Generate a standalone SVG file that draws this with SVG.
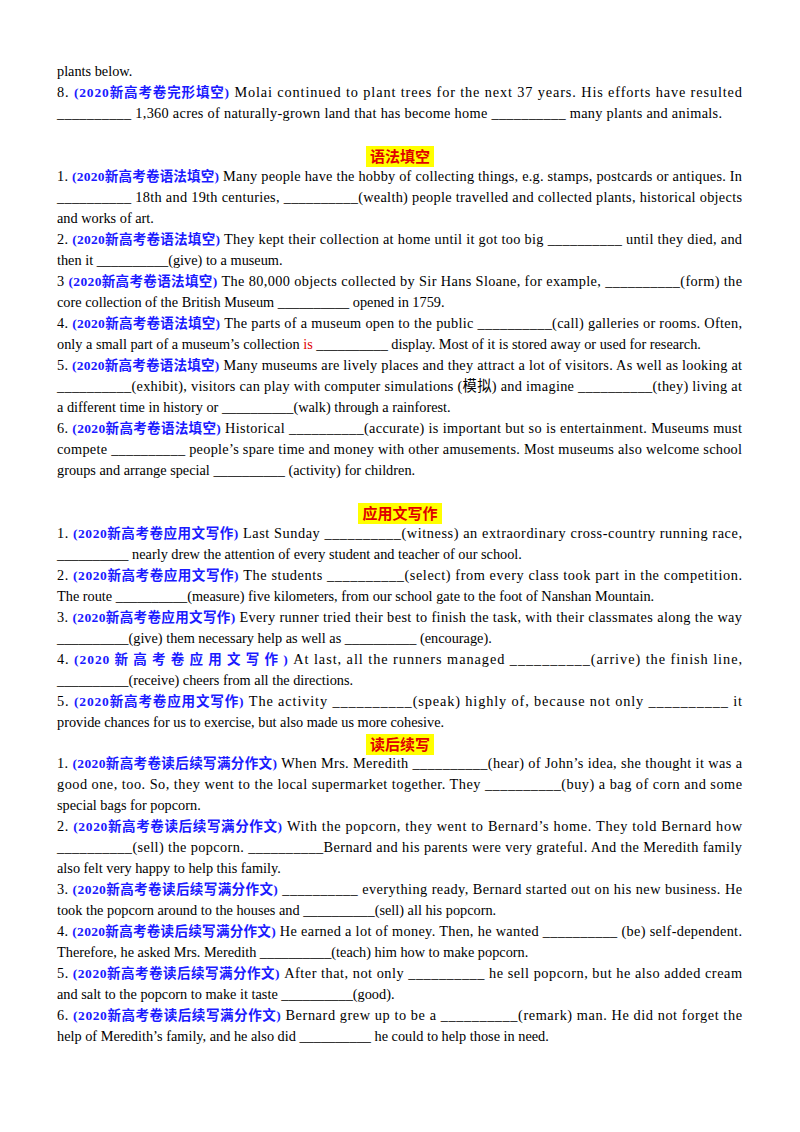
<svg xmlns="http://www.w3.org/2000/svg" width="800" height="1132" viewBox="0 0 800 1132">
<style>
text{font-family:"Liberation Serif","Noto Sans CJK SC",serif;font-size:14.3px;fill:#000}
.b{fill:#1a1aff;font-weight:bold;font-size:13.5px;font-family:"Liberation Serif","Noto Sans CJK SC",serif}
.h{fill:#e00000;font-weight:bold;font-size:15px;font-family:"Noto Sans CJK SC",sans-serif}
.r{fill:#e00000}
</style>
<rect width="800" height="1132" fill="#fff"/>
<g id="s1">
<text x="57" y="76">plants below.</text>
<text x="57" y="97" textLength="685" lengthAdjust="spacing">8. <tspan class="b">(2020新高考卷完形填空)</tspan> Molai continued to plant trees for the next 37 years. His efforts have resulted</text>
<text x="57" y="118" textLength="665" lengthAdjust="spacing">__________ 1,360 acres of naturally-grown land that has become home __________ many plants and animals.</text>
</g>
<g id="h2"><rect x="366" y="146" width="68" height="21" fill="#ffff00"/><text class="h" x="400" y="162" text-anchor="middle">语法填空</text></g>
<g id="s2">
<text x="57" y="181" textLength="685" lengthAdjust="spacing">1. <tspan class="b">(2020新高考卷语法填空)</tspan> Many people have the hobby of collecting things, e.g. stamps, postcards or antiques. In</text>
<text x="57" y="202" textLength="685" lengthAdjust="spacing">__________ 18th and 19th centuries, __________(wealth) people travelled and collected plants, historical objects</text>
<text x="57" y="223">and works of art.</text>
<text x="57" y="244" textLength="685" lengthAdjust="spacing">2. <tspan class="b">(2020新高考卷语法填空)</tspan> They kept their collection at home until it got too big __________ until they died, and</text>
<text x="57" y="265">then it __________(give) to a museum.</text>
<text x="57" y="286" textLength="685" lengthAdjust="spacing">3 <tspan class="b">(2020新高考卷语法填空)</tspan> The 80,000 objects collected by Sir Hans Sloane, for example, __________(form) the</text>
<text x="57" y="307">core collection of the British Museum __________ opened in 1759.</text>
<text x="57" y="328" textLength="685" lengthAdjust="spacing">4. <tspan class="b">(2020新高考卷语法填空)</tspan> The parts of a museum open to the public __________(call) galleries or rooms. Often,</text>
<text x="57" y="349">only a small part of a museum’s collection <tspan class="r">is</tspan> __________ display. Most of it is stored away or used for research.</text>
<text x="57" y="370" textLength="685" lengthAdjust="spacing">5. <tspan class="b">(2020新高考卷语法填空)</tspan> Many museums are lively places and they attract a lot of visitors. As well as looking at</text>
<text x="57" y="391" textLength="685" lengthAdjust="spacing">__________(exhibit), visitors can play with computer simulations (模拟) and imagine __________(they) living at</text>
<text x="57" y="412">a different time in history or __________(walk) through a rainforest.</text>
<text x="57" y="433" textLength="685" lengthAdjust="spacing">6. <tspan class="b">(2020新高考卷语法填空)</tspan> Historical __________(accurate) is important but so is entertainment. Museums must</text>
<text x="57" y="454" textLength="685" lengthAdjust="spacing">compete __________ people’s spare time and money with other amusements. Most museums also welcome school</text>
<text x="57" y="475">groups and arrange special __________ (activity) for children.</text>
</g>
<g id="h3"><rect x="358" y="503" width="84" height="21" fill="#ffff00"/><text class="h" x="400" y="519" text-anchor="middle">应用文写作</text></g>
<g id="s3">
<text x="57" y="538" textLength="685" lengthAdjust="spacing">1. <tspan class="b">(2020新高考卷应用文写作)</tspan> Last Sunday __________(witness) an extraordinary cross-country running race,</text>
<text x="57" y="559">__________ nearly drew the attention of every student and teacher of our school.</text>
<text x="57" y="580" textLength="685" lengthAdjust="spacing">2. <tspan class="b">(2020新高考卷应用文写作)</tspan> The students __________(select) from every class took part in the competition.</text>
<text x="57" y="601">The route __________(measure) five kilometers, from our school gate to the foot of Nanshan Mountain.</text>
<text x="57" y="622" textLength="685" lengthAdjust="spacing">3. <tspan class="b">(2020新高考卷应用文写作)</tspan> Every runner tried their best to finish the task, with their classmates along the way</text>
<text x="57" y="643">__________(give) them necessary help as well as __________ (encourage).</text>
<text x="57" y="664" textLength="685" lengthAdjust="spacing">4. <tspan class="b">(2020 新 高 考 卷 应 用 文 写 作 )</tspan> At last, all the runners managed __________(arrive) the finish line,</text>
<text x="57" y="685">__________(receive) cheers from all the directions.</text>
<text x="57" y="706" textLength="685" lengthAdjust="spacing">5. <tspan class="b">(2020新高考卷应用文写作)</tspan> The activity __________(speak) highly of, because not only __________ it</text>
<text x="57" y="727">provide chances for us to exercise, but also made us more cohesive.</text>
</g>
<g id="h4"><rect x="366" y="734" width="68" height="21" fill="#ffff00"/><text class="h" x="400" y="750" text-anchor="middle">读后续写</text></g>
<g id="s4">
<text x="57" y="768" textLength="685" lengthAdjust="spacing">1. <tspan class="b">(2020新高考卷读后续写满分作文)</tspan> When Mrs. Meredith __________(hear) of John’s idea, she thought it was a</text>
<text x="57" y="789" textLength="685" lengthAdjust="spacing">good one, too. So, they went to the local supermarket together. They __________(buy) a bag of corn and some</text>
<text x="57" y="810">special bags for popcorn.</text>
<text x="57" y="831" textLength="685" lengthAdjust="spacing">2. <tspan class="b">(2020新高考卷读后续写满分作文)</tspan> With the popcorn, they went to Bernard’s home. They told Bernard how</text>
<text x="57" y="852" textLength="685" lengthAdjust="spacing">__________(sell) the popcorn. __________Bernard and his parents were very grateful. And the Meredith family</text>
<text x="57" y="873">also felt very happy to help this family.</text>
<text x="57" y="894" textLength="685" lengthAdjust="spacing">3. <tspan class="b">(2020新高考卷读后续写满分作文)</tspan> __________ everything ready, Bernard started out on his new business. He</text>
<text x="57" y="915">took the popcorn around to the houses and __________(sell) all his popcorn.</text>
<text x="57" y="936" textLength="685" lengthAdjust="spacing">4. <tspan class="b">(2020新高考卷读后续写满分作文)</tspan> He earned a lot of money. Then, he wanted __________ (be) self-dependent.</text>
<text x="57" y="957">Therefore, he asked Mrs. Meredith __________(teach) him how to make popcorn.</text>
<text x="57" y="978" textLength="685" lengthAdjust="spacing">5. <tspan class="b">(2020新高考卷读后续写满分作文)</tspan> After that, not only __________ he sell popcorn, but he also added cream</text>
<text x="57" y="999">and salt to the popcorn to make it taste __________(good).</text>
<text x="57" y="1020" textLength="685" lengthAdjust="spacing">6. <tspan class="b">(2020新高考卷读后续写满分作文)</tspan> Bernard grew up to be a __________(remark) man. He did not forget the</text>
<text x="57" y="1041">help of Meredith’s family, and he also did __________ he could to help those in need.</text>
</g>
</svg>
